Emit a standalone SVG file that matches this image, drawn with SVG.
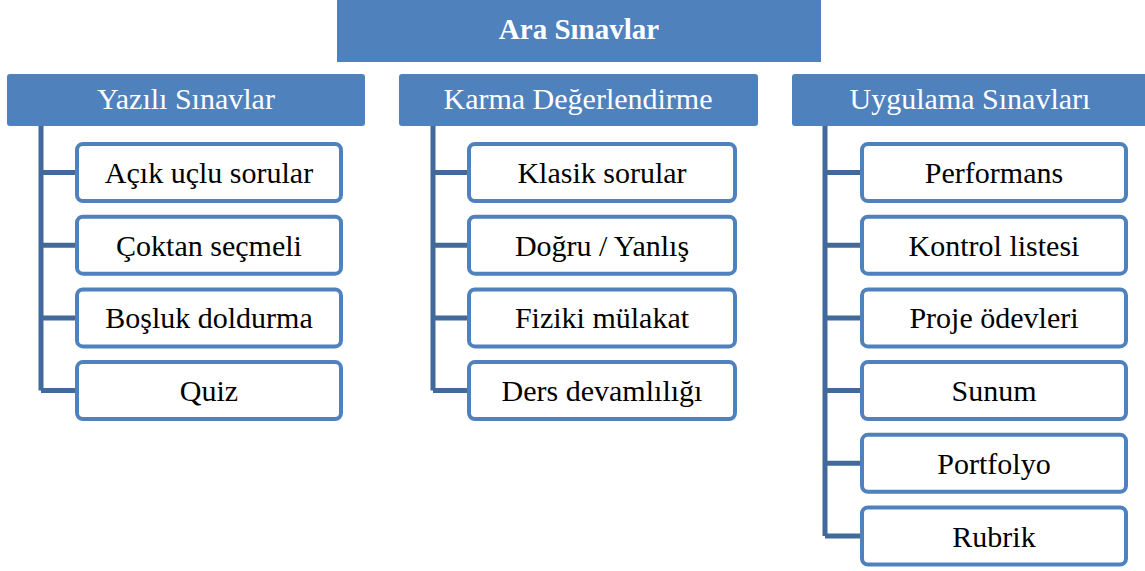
<svg xmlns="http://www.w3.org/2000/svg" width="1145" height="571" viewBox="0 0 1145 571">
<style>
.hdr{fill:#4f81bd;}
.box{fill:#ffffff;stroke:#4f81bd;stroke-width:4;}
.conn{stroke:#41699a;stroke-width:5;fill:none;stroke-linecap:butt;}
text{font-family:"Liberation Serif","DejaVu Serif",serif;text-anchor:middle;}
.t0{fill:#ffffff;font-weight:bold;font-size:29px;}
.t1{fill:#ffffff;font-size:30px;}
.t2{fill:#000000;font-size:30px;}
</style>
<g id="connectors">
<path class="conn" d="M41,126 V390.5 M41,172.5 H77 M41,245.2 H77 M41,317.9 H77 M41,390.6 H77"/>
<path class="conn" d="M433,126 V390.5 M433,172.5 H469 M433,245.2 H469 M433,317.9 H469 M433,390.6 H469"/>
<path class="conn" d="M825,126 V536 M825,172.5 H862 M825,245.2 H862 M825,317.9 H862 M825,390.6 H862 M825,463.3 H862 M825,536 H862"/>
</g>
<g id="root"><rect class="hdr" x="337" y="0" width="484" height="62"/><text class="t0" x="579" y="39">Ara Sınavlar</text></g>
<g id="yazili"><rect class="hdr" x="7" y="74" width="358" height="52" rx="3"/><text class="t1" x="186" y="109">Yazılı Sınavlar</text></g>
<g id="karma"><rect class="hdr" x="399" y="74" width="359" height="52" rx="3"/><text class="t1" x="578" y="109">Karma Değerlendirme</text></g>
<g id="uygulama"><rect class="hdr" x="792" y="74" width="358" height="52" rx="3"/><text class="t1" x="970" y="109">Uygulama Sınavları</text></g>
<g id="y1"><rect class="box" x="77" y="144" width="264" height="57" rx="6"/><text class="t2" x="209" y="183">Açık uçlu sorular</text></g>
<g id="y2"><rect class="box" x="77" y="216.7" width="264" height="57" rx="6"/><text class="t2" x="209" y="255.7">Çoktan seçmeli</text></g>
<g id="y3"><rect class="box" x="77" y="289.4" width="264" height="57" rx="6"/><text class="t2" x="209" y="328.4">Boşluk doldurma</text></g>
<g id="y4"><rect class="box" x="77" y="362.1" width="264" height="57" rx="6"/><text class="t2" x="209" y="401.1">Quiz</text></g>
<g id="k1"><rect class="box" x="469" y="144" width="266" height="57" rx="6"/><text class="t2" x="602" y="183">Klasik sorular</text></g>
<g id="k2"><rect class="box" x="469" y="216.7" width="266" height="57" rx="6"/><text class="t2" x="602" y="255.7">Doğru / Yanlış</text></g>
<g id="k3"><rect class="box" x="469" y="289.4" width="266" height="57" rx="6"/><text class="t2" x="602" y="328.4">Fiziki mülakat</text></g>
<g id="k4"><rect class="box" x="469" y="362.1" width="266" height="57" rx="6"/><text class="t2" x="602" y="401.1">Ders devamlılığı</text></g>
<g id="u1"><rect class="box" x="862" y="144" width="264" height="57" rx="6"/><text class="t2" x="994" y="183">Performans</text></g>
<g id="u2"><rect class="box" x="862" y="216.7" width="264" height="57" rx="6"/><text class="t2" x="994" y="255.7">Kontrol listesi</text></g>
<g id="u3"><rect class="box" x="862" y="289.4" width="264" height="57" rx="6"/><text class="t2" x="994" y="328.4">Proje ödevleri</text></g>
<g id="u4"><rect class="box" x="862" y="362.1" width="264" height="57" rx="6"/><text class="t2" x="994" y="401.1">Sunum</text></g>
<g id="u5"><rect class="box" x="862" y="434.8" width="264" height="57" rx="6"/><text class="t2" x="994" y="473.8">Portfolyo</text></g>
<g id="u6"><rect class="box" x="862" y="507.5" width="264" height="57" rx="6"/><text class="t2" x="994" y="546.5">Rubrik</text></g>
</svg>
